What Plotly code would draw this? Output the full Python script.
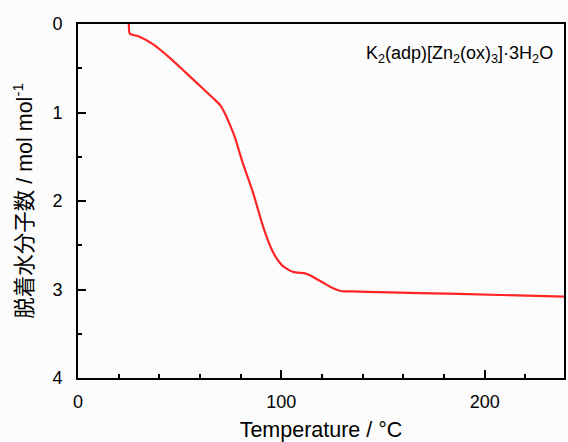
import plotly.graph_objects as go

temperature = [25, 25.5, 30, 37, 45, 53, 61, 67, 70, 72, 74, 77, 81, 86, 90.5, 93, 95.5, 98, 100.5, 103,
               105.5, 108, 112, 115, 118, 121, 124, 127, 130, 135, 148, 187, 239]
water = [0, 0.11, 0.14, 0.23, 0.38, 0.55, 0.72, 0.85, 0.92, 1.0, 1.1, 1.27, 1.57, 1.9, 2.25, 2.42, 2.56, 2.66,
         2.73, 2.77, 2.80, 2.81, 2.82, 2.85, 2.89, 2.93, 2.97, 3.0, 3.02, 3.022, 3.03, 3.05, 3.08]

x_ticks = [0, 100, 200]
y_ticks = [0, 1, 2, 3, 4]

FONT = "Liberation Sans, Arial, Noto Sans CJK JP, sans-serif"

fig = go.Figure()
fig.add_trace(go.Scatter(x=temperature, y=water, mode="lines",
                         line=dict(color="#ff2525", width=2.2, shape="spline", smoothing=0.6),
                         showlegend=False, hoverinfo="skip"))

axis_common = dict(showgrid=False, zeroline=False, showline=True, linecolor="black", linewidth=2,
                   mirror=True, ticks="inside", tickcolor="black", tickwidth=1.5, ticklen=8,
                   tickfont=dict(family=FONT, size=18, color="black"))

fig.update_xaxes(range=[0, 239], tickvals=x_ticks, ticktext=[str(v) for v in x_ticks],
                 minor=dict(dtick=20, tick0=0, ticks="inside", ticklen=4, tickcolor="black", tickwidth=1.5),
                 title=dict(text="Temperature / °C", font=dict(family=FONT, size=21.5, color="black"), standoff=11),
                 ticklabelstandoff=6, **axis_common)
fig.update_yaxes(range=[4, 0], tickvals=y_ticks, ticktext=[str(v) for v in y_ticks],
                 minor=dict(dtick=0.5, tick0=0, ticks="inside", ticklen=4, tickcolor="black", tickwidth=1.5),
                 title=dict(text="脱着水分子数 / mol mol<sup>-1</sup>", font=dict(family=FONT, size=21.5, color="black"), standoff=14),
                 ticklabelstandoff=10, **axis_common)

fig.add_annotation(x=0.981, y=0.915, xref="paper", yref="paper", xanchor="right", yanchor="middle",
                   text="K<sub>2</sub>(adp)[Zn<sub>2</sub>(ox)<sub>3</sub>]·3H<sub>2</sub>O",
                   showarrow=False, font=dict(family=FONT, size=18, color="black"))

fig.update_layout(width=568, height=442, margin=dict(l=78, r=2, t=24, b=64),
                  paper_bgcolor="#fcfcfc", plot_bgcolor="#fcfcfc", hovermode=False)

fig.write_html("out.html", config={"displayModeBar": False},
               post_script="document.body.style.margin='0';document.body.style.overflow='hidden';")
